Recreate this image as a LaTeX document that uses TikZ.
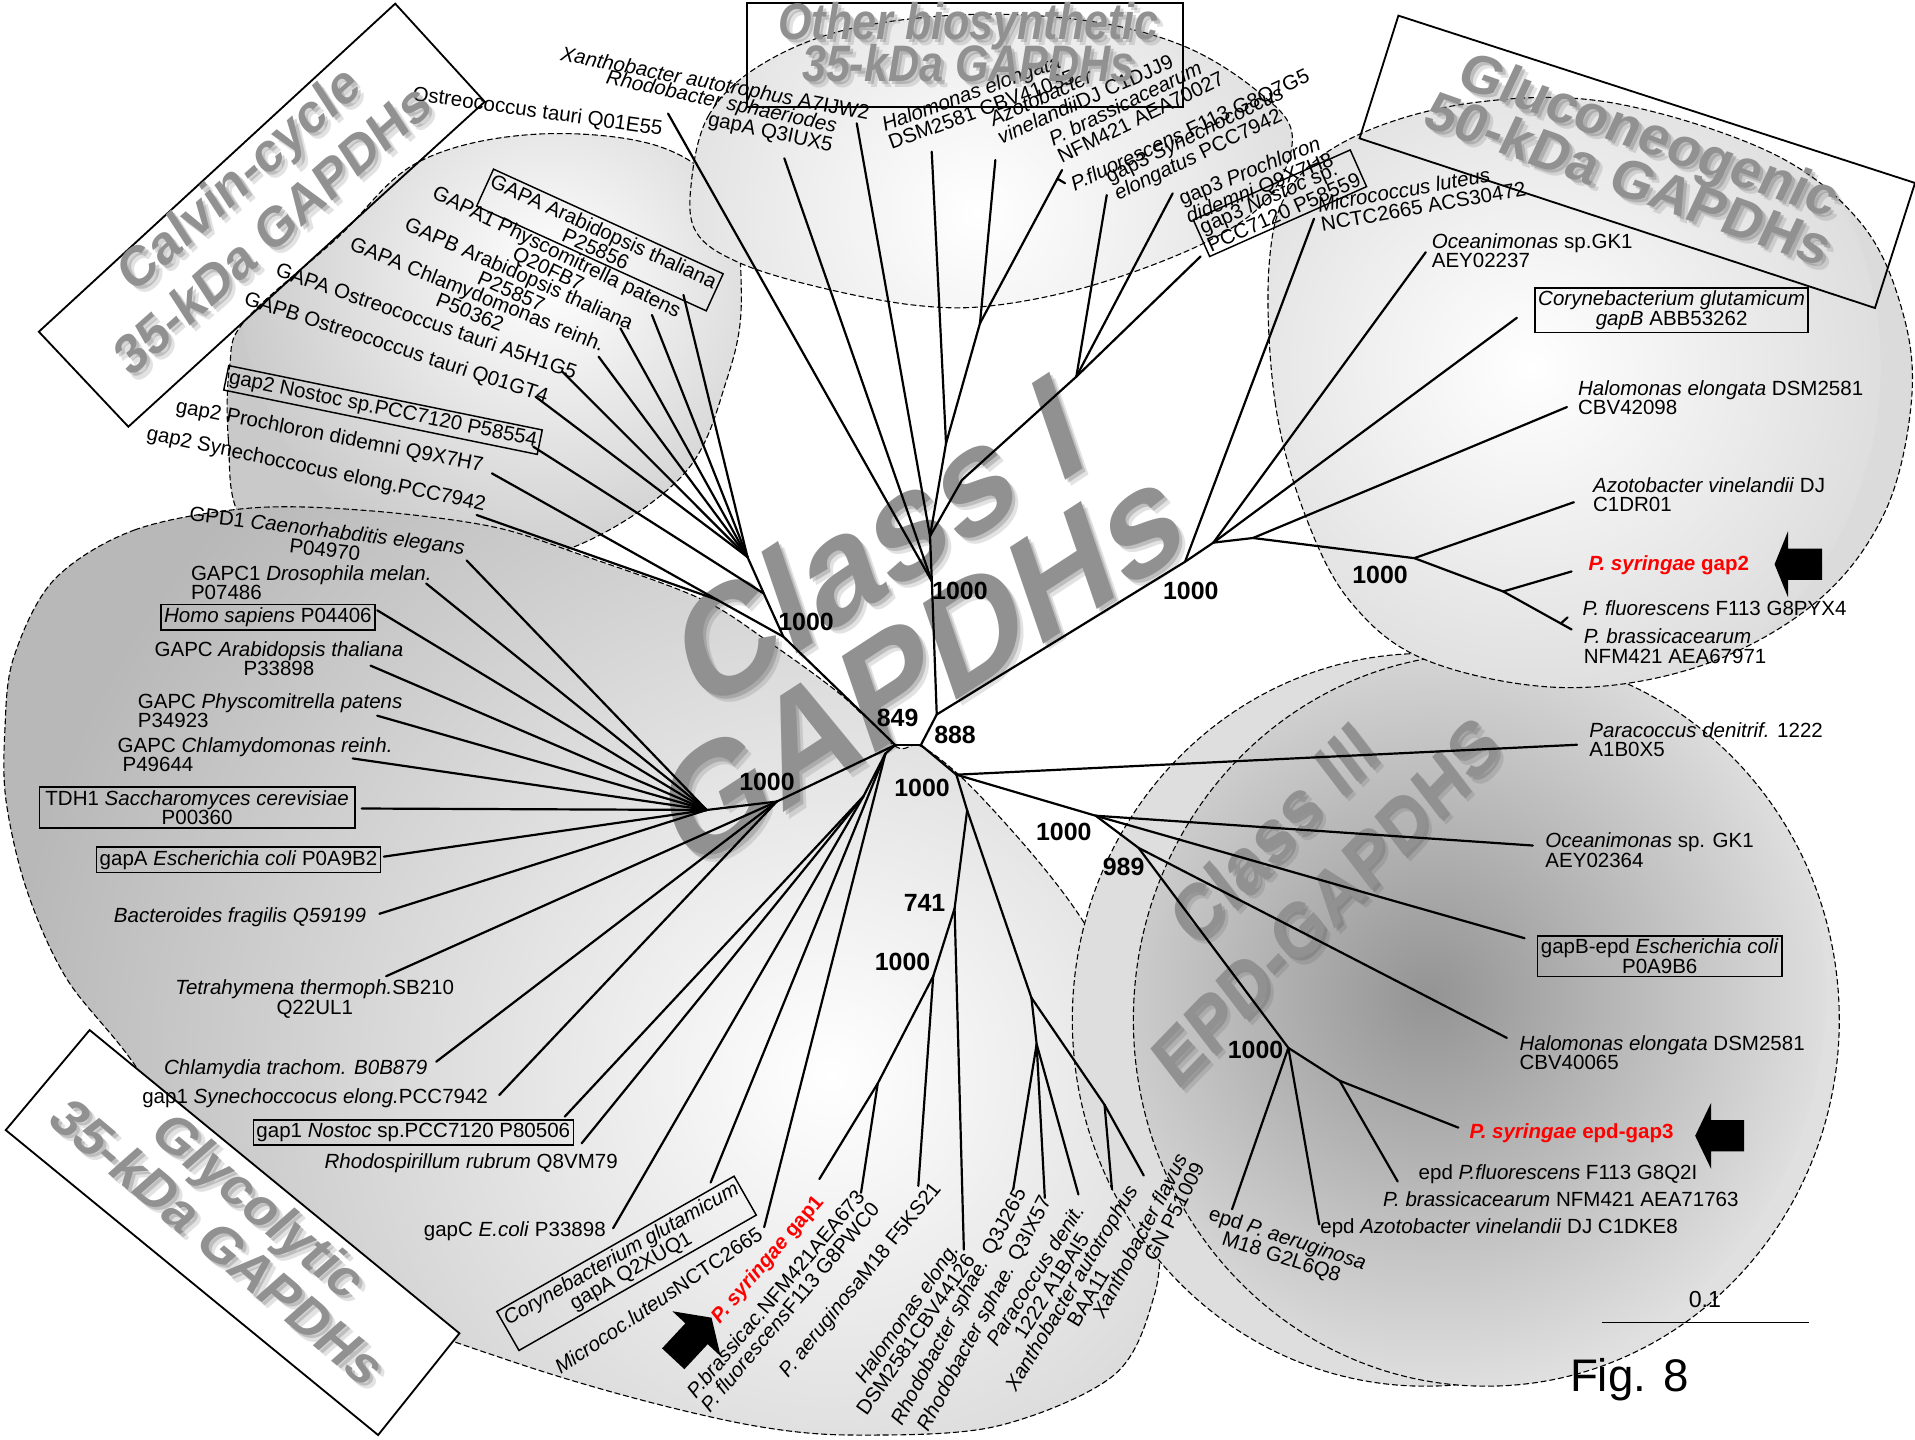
\documentclass[tikz,border=0pt]{standalone}
\usepackage{fontspec}
\usepackage{graphicx}
\setmainfont{Liberation Sans}
\usetikzlibrary{calc}
\lineskiplimit=-100pt
\definecolor{bigg}{gray}{0.57}
\definecolor{synred}{RGB}{255,0,0}
\newcommand\tfnt{\fontsize{8.4}{7.9}\selectfont}
\newcommand\bfnt{\fontsize{10.2}{11}\selectfont\bfseries}
\newcommand\syr[1]{\textcolor{synred}{\bfseries\textit{P. syringae} #1}}
\newcommand\biglab[6]{%
 \node[biglab, text=black!70, opacity=0.16, #4, font=#5] at ({#2+5},{#3+5}) {#6};
 \node[biglab, text=black!70, opacity=0.24, #4, font=#5] at ({#2+2.5},{#3+2.5}) {#6};
 \node[biglab, #4, font=#5] (#1) at (#2,#3) {#6};}
\tikzset{
  br/.style={line width=0.9pt, line cap=round, line join=round},
  tl/.style={font=\tfnt, inner sep=0.5pt, align=center},
  tll/.style={font=\tfnt, inner sep=0.5pt, align=left},
  tlr/.style={font=\tfnt, inner sep=0.5pt, align=right},
  tbox/.style={draw, line width=0.6pt, inner sep=1.3pt},
  boot/.style={font=\bfnt, inner sep=0pt},
  blobedge/.style={draw=black, line width=0.45pt, dash pattern=on 2.4pt off 1.2pt},
  bigbox/.style={draw=black, line width=0.75pt},
  biglab/.style={text=bigg, align=center, inner sep=0pt},
  blockarrow/.style={fill=black},
}
\begin{document}
\begin{tikzpicture}[x=0.5pt,y=-0.5pt]
\useasboundingbox[fill=white] (0,0) rectangle (1568,1179);

% ---------------- background regions ----------------
\path[blobedge, fill=black!21, path picture={\shade[inner color=white, outer color=black!21] (455,225) circle (130pt);}]
 plot[smooth cycle, tension=0.6] coordinates {(198,425) (187,360) (188,300) (201,262) (276,195) (342,133) (437,110) (540,120) (595,164) (607,245) (595,311) (560,388) (472,447) (380,462) (260,462)};
\path[blobedge, fill=black!13, path picture={\shade[inner color=white, outer color=black!13] (800,175) circle (140pt);}]
 plot[smooth cycle, tension=0.6] coordinates {(566,150) (580,95) (620,55) (690,25) (790,12) (890,17) (970,38) (1030,75) (1058,110) (1040,160) (990,197) (900,232) (815,250) (750,250) (670,235) (605,215) (570,190)};
\path[blobedge, fill=black!28, path picture={\shade[inner color=white, outer color=black!28] (680,880) circle (340pt);}]
 plot[smooth cycle, tension=0.55] coordinates {(44,475) (110,434) (205,416) (300,418) (402,431) (475,454) (573,490) (630,526) (690,570) (733,611) (754,611) (792,641) (850,705) (891,761) (925,830) (945,920) (950,1000) (945,1061) (912,1126) (815,1168) (700,1175) (621,1168) (524,1146) (420,1115) (300,1070) (180,1000) (115,879) (55,802) (22,729) (5,656) (4,598) (11,539)};
\path[blobedge, fill=black!13] (1167,835) ellipse (144.5pt and 150pt);
\path[blobedge, fill=black!12, path picture={\shade[inner color=black!42, outer color=black!12] (1165,815) circle (165pt);}]
 (1217,835) ellipse (144.5pt and 150pt);
\path[blobedge, fill=black!14, path picture={\shade[inner color=white, outer color=black!14] (1240,300) circle (150pt);}]
 plot[smooth cycle, tension=0.6] coordinates {(1039,219) (1044,329) (1068,420) (1106,493) (1169,541) (1281,563) (1393,545) (1487,493) (1543,420) (1565,329) (1558,256) (1524,183) (1450,125) (1319,84) (1207,84) (1113,110) (1057,153)};

% glycolytic label box (white) and its text
\draw[bigbox, fill=white] (4.7,925.3) -- (73.4,843.4) -- (376.2,1091.7) -- (309.6,1175) -- cycle;
\biglab{tGly}{196.5}{1001.7}{rotate=-40, xslant=0.15}{\fontsize{22}{22.5}\selectfont\bfseries}{Glycolytic\\35-kDa GAPDHs}

% big central labels (under the tree)
\biglab{tClassI}{737}{492}{rotate=33, xslant=0.25}{\fontsize{59}{51.5}\selectfont\bfseries}{Class I\\GAPDHs}
\biglab{tClassIII}{1064}{710}{rotate=46, xslant=0.15}{\fontsize{29}{35}\selectfont\bfseries}{Class III\\EPD-GAPDHS}

% ---------------- tree coordinates ----------------
\coordinate (A) at (733,610);
\coordinate (B) at (754,610);
\coordinate (n888) at (767,585);
\coordinate (O1) at (763,476);
\coordinate (O2) at (761.5,439);
\coordinate (O3) at (774.6,363);
\coordinate (O4) at (787.7,393);
\coordinate (O5) at (802.4,264.7);
\coordinate (O6) at (881.3,308.4);
\coordinate (G1) at (970.3,460);
\coordinate (G2) at (993.5,444.3);
\coordinate (G3) at (1026,440.5);
\coordinate (G4) at (1158,457);
\coordinate (G5) at (1230.8,484.3);
\coordinate (C1) at (641.4,521.3);
\coordinate (C4) at (625.4,486);
\coordinate (C2) at (612,456);
\coordinate (C3) at (587,491);
\coordinate (L1) at (636,656.3);
\coordinate (L2) at (578.6,663.2);
\coordinate (L4) at (725,617);
\coordinate (L5) at (707,652);
\coordinate (D) at (783.1,634.3);
\coordinate (E) at (791.9,663.5);
\coordinate (n741) at (781.6,743.9);
\coordinate (N1k) at (764.1,799.4);
\coordinate (Pn) at (718.7,887.1);
\coordinate (R1) at (844.5,816.9);
\coordinate (R2) at (848.8,854.9);
\coordinate (R3) at (904.4,904.6);
\coordinate (F) at (897.1,667.9);
\coordinate (n989) at (932.2,694.2);
\coordinate (Ne) at (1054.9,858);
\coordinate (N2) at (1096.9,884.9);
% tips
\coordinate (tQ01E55) at (547,93);
\coordinate (tRhoA) at (642.2,129.6);
\coordinate (tXanA) at (701.5,101);
\coordinate (tHalA) at (762.9,124.2);
\coordinate (tAzoA) at (815,131);
\coordinate (tPbrA) at (869.6,139.2);
\coordinate (kPflA) at (865.8,146.3);
\coordinate (tPflA) at (872,150);
\coordinate (tSynA) at (906.2,159.7);
\coordinate (tProA) at (960.2,158.3);
\coordinate (tNosA) at (983,210);
\coordinate (tMicG) at (1075.9,179.1);
\coordinate (tOceG) at (1167.4,206.5);
\coordinate (tCorG) at (1242,260.2);
\coordinate (tHalG) at (1283,333.3);
\coordinate (tAzoG) at (1288.7,411.2);
\coordinate (tSyrG) at (1286.8,467.9);
\coordinate (tPbrG) at (1286.8,515.4);
\coordinate (kPflG) at (1278,510.5);
\coordinate (tPflG) at (1283.5,505.5);
\coordinate (tGAPAar) at (559.6,241.5);
\coordinate (tGAPA1) at (533.8,257.9);
\coordinate (tGAPBar) at (508,268.8);
\coordinate (tGAPAch) at (490.1,292);
\coordinate (tGAPAos) at (460.4,304.3);
\coordinate (tGAPBos) at (438.5,324.8);
\coordinate (tNos2) at (436.6,365.7);
\coordinate (tPro2) at (402.8,387.6);
\coordinate (tSyn2) at (390.3,421.7);
\coordinate (tGPD1) at (382,458.8);
\coordinate (tGAPC1) at (349,477.8);
\coordinate (tHomo) at (308.9,499.7);
\coordinate (tGAPCar) at (303.4,545);
\coordinate (tGAPCph) at (308.9,586);
\coordinate (tGAPCch) at (288.8,621);
\coordinate (tTDH1) at (296.1,662);
\coordinate (tgapA) at (314.3,701.4);
\coordinate (tBact) at (310.7,748.2);
\coordinate (tTetra) at (316.2,799.3);
\coordinate (tChlam) at (357.2,869.3);
\coordinate (tSyn1) at (408.8,896.6);
\coordinate (tNos1) at (462.4,914.3);
\coordinate (tRhsp) at (476.2,936.2);
\coordinate (tgapC) at (502,1005.7);
\coordinate (tCorA) at (581.9,968.2);
\coordinate (tMicA) at (625.7,1004.8);
\coordinate (tSyr1) at (670.9,965.4);
\coordinate (tPp1) at (705,976.6);
\coordinate (tAer1) at (751.9,971);
\coordinate (tHal1) at (789.2,1023.2);
\coordinate (tQ3J) at (829.6,973.8);
\coordinate (tQ3IX) at (855.5,980.8);
\coordinate (tParA) at (883,978);
\coordinate (tBAA) at (910.5,973.8);
\coordinate (tXfl) at (936.5,962.5);
\coordinate (tParC) at (1291.2,609.8);
\coordinate (tOceC) at (1255,692.3);
\coordinate (tgapB) at (1248.3,768.2);
\coordinate (tHalC) at (1233.8,849.8);
\coordinate (tSyrC) at (1194.1,923.3);
\coordinate (tPpC) at (1144.4,967.4);
\coordinate (tAzoC) at (1080.2,1002.5);
\coordinate (tAerC) at (1008.8,990.1);

% ---------------- branches ----------------
\draw[br] (A) -- (B);
\draw[br] (B) -- (n888);
\draw[br] (B) -- (D);
\draw[br] (A) -- (C1);
\draw[br] (A) -- (L1);
\draw[br] (A) -- (L4);
\draw[br] (n888) -- (O1);
\draw[br] (n888) -- (G1);
% other biosynthetic
\draw[br] (O1) -- (tQ01E55);
\draw[br] (O1) -- (tRhoA);
\draw[br] (O1) -- (O2);
\draw[br] (O2) -- (tXanA);
\draw[br] (O2) -- (O3);
\draw[br] (O2) -- (O4);
\draw[br] (O3) -- (tHalA);
\draw[br] (O3) -- (O5);
\draw[br] (O5) -- (tAzoA);
\draw[br] (O5) -- (tPbrA);
\draw[br] (kPflA) -- (tPflA);
\draw[br] (O4) -- (O6);
\draw[br] (O6) -- (tSynA);
\draw[br] (O6) -- (tProA);
\draw[br] (O6) -- (tNosA);
% gluconeogenic
\draw[br] (G1) -- (tMicG);
\draw[br] (G1) -- (G2);
\draw[br] (G2) -- (tOceG);
\draw[br] (G2) -- (tCorG);
\draw[br] (G2) -- (G3);
\draw[br] (G3) -- (tHalG);
\draw[br] (G3) -- (G4);
\draw[br] (G4) -- (tAzoG);
\draw[br] (G4) -- (G5);
\draw[br] (G5) -- (tSyrG);
\draw[br] (G5) -- (tPbrG);
\draw[br] (kPflG) -- (tPflG);
% calvin
\draw[br] (C1) -- (C4);
\draw[br] (C4) -- (C2);
\draw[br] (C4) -- (tNos2);
\draw[br] (C1) -- (C3);
\draw[br] (C3) -- (tPro2);
\draw[br] (C3) -- (tSyn2);
\foreach \t in {tGAPAar,tGAPA1,tGAPBar,tGAPAch,tGAPAos,tGAPBos} {\draw[br] (C2) -- (\t);}
% glycolytic
\draw[br] (L1) -- (L2);
\draw[br] (L1) -- (tTetra);
\draw[br] (L1) -- (tChlam);
\draw[br] (L1) -- (tSyn1);
\foreach \t in {tGPD1,tGAPC1,tHomo,tGAPCar,tGAPCph,tGAPCch,tTDH1,tgapA,tBact} {\draw[br] (L2) -- (\t);}
\draw[br] (L4) -- (L5);
\draw[br] (L4) -- (tCorA);
\draw[br] (L4) -- (tMicA);
\draw[br] (L5) -- (tNos1);
\draw[br] (L5) -- (tRhsp);
\draw[br] (L5) -- (tgapC);
\draw[br] (D) -- (E);
\draw[br] (D) -- (tParC);
\draw[br] (D) -- (F);
\draw[br] (E) -- (n741);
\draw[br] (E) -- (R1);
\draw[br] (n741) -- (N1k);
\draw[br] (n741) -- (tHal1);
\draw[br] (N1k) -- (tAer1);
\draw[br] (N1k) -- (Pn);
\draw[br] (Pn) -- (tSyr1);
\draw[br] (Pn) -- (tPp1);
\draw[br] (R1) -- (R2);
\draw[br] (R1) -- (R3);
\draw[br] (R2) -- (tQ3J);
\draw[br] (R2) -- (tQ3IX);
\draw[br] (R2) -- (tParA);
\draw[br] (R3) -- (tBAA);
\draw[br] (R3) -- (tXfl);
% class III
\draw[br] (F) -- (tOceC);
\draw[br] (F) -- (tgapB);
\draw[br] (F) -- (n989);
\draw[br] (n989) -- (tHalC);
\draw[br] (n989) -- (Ne);
\draw[br] (Ne) -- (tAerC);
\draw[br] (Ne) -- (tAzoC);
\draw[br] (Ne) -- (N2);
\draw[br] (N2) -- (tSyrC);
\draw[br] (N2) -- (tPpC);

% ---------------- leaf labels ----------------
% calvin
\node[tl, rotate=-8] (lQ01E55) at (440,92) {Ostreococcus tauri Q01E55};
\node[tl, tbox, rotate=-24.5] (lGAPAar) at (491.2,196.5) {GAPA Arabidopsis thaliana\\P25856};
\node[tl, rotate=-26] (lGAPA1) at (452,214) {GAPA1 Physcomitrella patens\\Q20FB7};
\node[tl, rotate=-24] (lGAPBar) at (422,231) {GAPB Arabidopsis thaliana\\P25857};
\node[tl, rotate=-22] (lGAPAch) at (388,248) {GAPA Chlamydomonas reinh.\\P50362};
\node[tl, rotate=-19] (lGAPAos) at (349.3,262.5) {GAPA Ostreococcus tauri A5H1G5};
\node[tl, rotate=-18] (lGAPBos) at (324.3,285.2) {GAPB Ostreococcus tauri Q01GT4};
\node[tl, tbox, rotate=-11.6] (lNos2) at (313.6,335.7) {gap2 Nostoc sp.PCC7120 P58554};
\node[tl, rotate=-11] (lPro2) at (269.9,357.5) {gap2 Prochloron didemni Q9X7H7};
\node[tl, rotate=-12] (lSyn2) at (258.8,384.8) {gap2 Synechoccocus elong.PCC7942};
% other biosynthetic
\node[tl, rotate=-11] (lXanA) at (585.4,69.6) {\textit{Xanthobacter autotrophus} A7IJW2};
\node[tlr, rotate=-12] (lRhoA) at (589,92) {\textit{Rhodobacter sphaeriodes}\\gapA Q3IUX5};
\node[tll, rotate=20, anchor=west] (lHalA) at (724,110) {\textit{Halomonas elongata}\\DSM2581 CBV41035};
\node[tll, rotate=24, anchor=west] (lAzoA) at (813,106) {\textit{Azotobacter}\\\textit{vinelandii}DJ C1DJJ9};
\node[tll, rotate=26, anchor=west] (lPbrA) at (862,122) {\textit{P. brassicacearum}\\NFM421 AEA70027};
\node[tll, rotate=25, anchor=west] (lPflA) at (877,153) {\textit{P.fluorescens} F113 G8Q7G5};
\node[tll, rotate=26, anchor=west] (lSynA) at (909,154) {gap3 \textit{Synechococcus}\\\textit{elongatus} PCC7942};
\node[tll, rotate=22, anchor=west] (lProA) at (968,172) {gap3 \textit{Prochloron}\\\textit{didemni} Q9X7H8};
\node[tll, tbox, rotate=24] (lNosA) at (1048,166.4) {gap3 \textit{Nostoc} sp.\\PCC7120 P58559};
% gluconeogenic
\node[tll, rotate=10, anchor=west] (lMicG) at (1079,176) {\textit{Micrococcus luteus}\\NCTC2665 ACS30472};
\node[tll, anchor=west] (lOceG) at (1171,205) {\textit{Oceanimonas} sp.GK1\\AEY02237};
\node[tl, tbox] (lCorG) at (1368.7,254) {\textit{Corynebacterium glutamicum}\\\textit{gapB} ABB53262};
\node[tll, anchor=west] (lHalG) at (1290.7,325.6) {\textit{Halomonas elongata} DSM2581\\CBV42098};
\node[tll, anchor=west] (lAzoG) at (1303,405) {\textit{Azotobacter vinelandii} DJ\\C1DR01};
\node[tll, anchor=west] (lSyrG) at (1299.3,462.4) {\syr{gap2}};
\node[tll, anchor=west] (lPflG) at (1294.4,497.8) {\textit{P. fluorescens} F113 G8PYX4};
\node[tll, anchor=west] (lPbrG) at (1295.5,529) {\textit{P. brassicacearum}\\NFM421 AEA67971};
% glycolytic left
\node[tl, rotate=-7] (lGPD1) at (267,442) {GPD1 \textit{Caenorhabditis elegans}\\P04970};
\node[tll, anchor=west] (lGAPC1) at (155,477) {GAPC1 \textit{Drosophila melan.}\\P07486};
\node[tl, tbox] (lHomo) at (219.3,505.5) {\textit{Homo sapiens} P04406};
\node[tl] (lGAPCar) at (228.4,539.5) {GAPC \textit{Arabidopsis thaliana}\\P33898};
\node[tll, anchor=west] (lGAPCph) at (111.5,582) {GAPC \textit{Physcomitrella patens}\\P34923};
\node[tll, anchor=west] (lGAPCch) at (95,618) {GAPC \textit{Chlamydomonas reinh.}\\\hspace{2pt}P49644};
\node[tl, tbox, inner xsep=2.5pt] (lTDH1) at (161.4,661.2) {TDH1 \textit{Saccharomyces cerevisiae}\\P00360};
\node[tl, tbox] (lgapA) at (195.3,704) {gapA \textit{Escherichia coli} P0A9B2};
\node[tl] (lBact) at (196.5,751) {\textit{Bacteroides fragilis Q59199}};
\node[tl] (lTetra) at (257.7,818) {\textit{Tetrahymena thermoph.}SB210\\Q22UL1};
\node[tl] (lChlam) at (242.1,875.5) {\textit{Chlamydia trachom. B0B879}};
\node[tl] (lSyn1) at (258,899.3) {gap1 \textit{Synechoccocus elong.}PCC7942};
\node[tl, tbox] (lNos1) at (338.4,927.3) {gap1 \textit{Nostoc} sp.PCC7120 P80506};
\node[tl] (lRhsp) at (385.8,952) {\textit{Rhodospirillum rubrum} Q8VM79};
\node[tl] (lgapC) at (421.5,1008.4) {gapC \textit{E.coli} P33898};
% bottom rotated
\node[tl, tbox, rotate=29.7] (lCorA) at (513,1034.4) {\textit{Corynebacterium glutamicum}\\gapA Q2XUQ1};
\node[tl, rotate=34] (lMicA) at (539,1064.6) {\textit{Micrococ.luteus}NCTC2665};
\node[tl, rotate=49.5] (lSyr1) at (628.9,1031.6) {\syr{gap1}};
\node[tlr, rotate=50] (lPp1) at (640.6,1065) {\textit{P.brassicac.}NFM421AEA673\\\textit{P. fluorescens}F113 G8PWC0};
\node[tl, rotate=51] (lAer1) at (705,1048.5) {\textit{P. aeruginosa}M18 F5KS21};
\node[tlr, rotate=55] (lHal1) at (743,1088) {\textit{Halomonas elong.}\\DSM2581CBV44126};
\node[tl, rotate=62] (lQ3J) at (786,1070.2) {\textit{Rhodobacter sphae.} Q3J265};
\node[tl, rotate=62] (lQ3IX) at (807,1075.9) {\textit{Rhodobacter sphae.} Q3IX57};
\node[tl, rotate=57.3] (lParA) at (854,1048.5) {\textit{Paracoccus denit.}\\1222 A1BAI5};
\node[tl, rotate=59] (lBAA) at (884,1058.4) {\textit{Xanthobacter autotrophus}\\BAA11};
\node[tlr, rotate=62.6] (lXfl) at (940.3,1015.5) {\textit{Xanthobacter flavus}\\GN P51009};
% class III right
\node[tll, anchor=west] (lParC) at (1300,605.5) {\textit{Paracoccus denitrif.} 1222\\A1B0X5};
\node[tll, anchor=west] (lOceC) at (1264,696) {\textit{Oceanimonas} sp. GK1\\AEY02364};
\node[tl, tbox] (lgapB) at (1359,783) {gapB-epd \textit{Escherichia coli}\\P0A9B6};
\node[tll, anchor=west] (lHalC) at (1242.8,862) {\textit{Halomonas elongata} DSM2581\\CBV40065};
\node[tll, anchor=west] (lSyrC) at (1202,928.2) {\syr{epd-gap3}};
\node[tl] (lPflC) at (1275.7,961.2) {epd \textit{P.fluorescens} F113 G8Q2I};
\node[tl] (lPbrC) at (1278,981.8) {\textit{P. brassicacearum} NFM421 AEA71763};
\node[tll, anchor=west] (lAzoC) at (1079.7,1005.8) {epd \textit{Azotobacter vinelandii} DJ C1DKE8};
\node[tl, rotate=-18] (lAerC) at (1051.5,1022.5) {epd \textit{P. aeruginosa}\\M18 G2L6Q8};

% ---------------- group label boxes and titles ----------------
\draw[bigbox] (31.8,271.6) -- (323.6,3) -- (396.9,83.3) -- (105.1,349.4) -- cycle;
\biglab{tCalvin}{209}{166}{rotate=41.5, xslant=0.15}{\fontsize{21.5}{25}\selectfont\bfseries}{Calvin-cycle\\35-kDa GAPDHs}
\draw[bigbox] (611.6,2.2) rectangle (968.9,87.3);
\biglab{tOther}{793}{34.5}{xscale=0.84}{\fontsize{21}{17}\selectfont\bfseries\itshape}{Other biosynthetic\\35-kDa GAPDHs}
\draw[bigbox] (1145,12.8) -- (1568,149.8) -- (1535.2,252.2) -- (1113.2,113.3) -- cycle;
\biglab{tGluco}{1342.7}{127.9}{rotate=-19.5, xslant=0.1}{\fontsize{22.5}{20}\selectfont\bfseries}{Gluconeogenic\\50-kDa GAPDHs}

% ---------------- bootstrap values ----------------
\node[boot] (b849) at (735,588) {849};
\node[boot] (b888) at (782,602) {888};
\node[boot] (bC) at (660,509) {1000};
\node[boot] (bO) at (786,484) {1000};
\node[boot] (bG1) at (975,484) {1000};
\node[boot] (bG4) at (1130,471) {1000};
\node[boot] (bL1) at (628,640) {1000};
\node[boot] (bD) at (755,645) {1000};
\node[boot] (bF) at (871,681) {1000};
\node[boot] (b989) at (920,710) {989};
\node[boot] (b741) at (757,739) {741};
\node[boot] (bN) at (739,788) {1000};
\node[boot] (bE) at (1028,860) {1000};

% ---------------- arrows ----------------
\fill[blockarrow, shift={(1453,462)}] (0,0) -- (11,-27) -- (11,-12.8) -- (39,-12.8) -- (39,12.8) -- (11,12.8) -- (11,27) -- cycle;
\fill[blockarrow, shift={(1388,930)}] (0,0) -- (13,-27) -- (13,-12.8) -- (40,-12.8) -- (40,12.8) -- (13,12.8) -- (13,27) -- cycle;
\fill[blockarrow, shift={(582.6,1078.9)}, rotate=-133] (0,0) -- (18,-27) -- (18,-12.5) -- (46,-12.5) -- (46,12.5) -- (18,12.5) -- (18,27) -- cycle;

% ---------------- scale bar and figure label ----------------
\coordinate (sb1) at (1311.4,1082.9);
\coordinate (sb2) at (1480.8,1082.9);
\draw[line width=0.75pt] (sb1) -- (sb2);
\node[font=\fontsize{9.5}{10}\selectfont, inner sep=0pt] (lscale) at (1396,1064) {0.1};
\node[font=\fontsize{18.7}{20}\selectfont, inner sep=0pt] (lfig) at (1334,1130) {Fig. 8};
\end{tikzpicture}
\end{document}
